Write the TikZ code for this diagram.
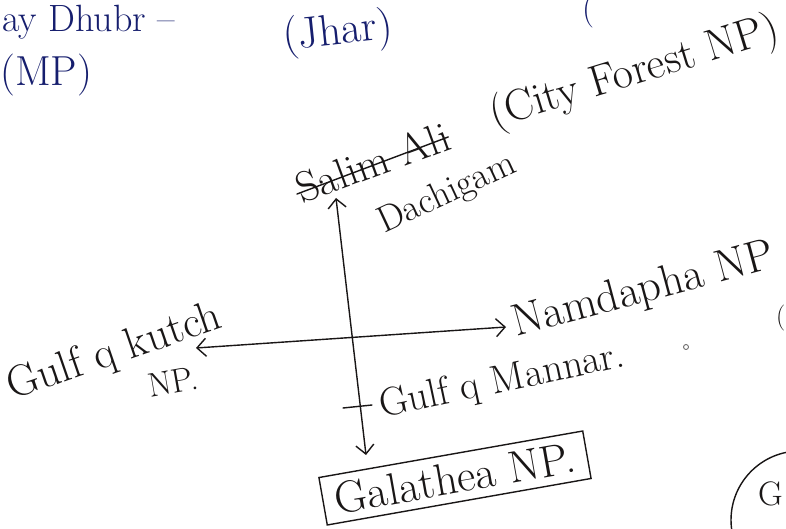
\documentclass[tikz,border=0pt]{standalone}
\usetikzlibrary{arrows.meta}
\definecolor{ink}{RGB}{25,22,22}
\definecolor{blueink}{RGB}{22,30,110}
\tikzset{
  hand/.style={inner sep=0pt, text=ink, font=\fontsize{#1}{#1}\selectfont},
  bluehand/.style={inner sep=0pt, text=blueink, font=\fontsize{#1}{#1}\selectfont},
  pen/.style={draw=ink, line width=1.4pt, line cap=round, line join=round},
  barbs/.style={{Straight Barb[length=9pt,width=18pt,line width=1.4pt]}-{Straight Barb[length=9pt,width=18pt,line width=1.4pt]}}
}
\begin{document}
\begin{tikzpicture}[x=1pt,y=-1pt]
\useasboundingbox (0,0) rectangle (786,529);
\fill[white] (0,0) rectangle (786,529);
\clip (0,0) rectangle (786,529);

% blue notes at the top
\node[bluehand=38, anchor=base west] (dhubr) at (2,32) {ay Dhubr --};
\node[bluehand=42, anchor=base west] (mp) at (0,86) {(MP)};
\node[bluehand=44, anchor=base west, rotate=6] (jhar) at (284,50) {(Jhar)};
\node[bluehand=34, anchor=base west] (cut) at (582,20) {(};

% top labels
\node[hand=43, anchor=base west, rotate=20] (salim) at (302,204) {Salim Ali};
\draw[pen] (salim.west) ++(0,4) -- ([yshift=-2pt]salim.east);
\node[hand=44, anchor=base west, rotate=17] (city) at (494,128) {(City Forest NP)};
\node[hand=37, anchor=base west, rotate=25] (dachigam) at (384,234) {Dachigam};

% right and left labels
\node[hand=45, anchor=base west, rotate=15] (namdapha) at (516,337) {Namdapha NP};
\node[hand=44, anchor=base west, rotate=19] (kutch) at (12,400) {Gulf q kutch};
\node[hand=34, anchor=base west, rotate=10] (kutchnp) at (150,398) {NP.};
\node[hand=40, anchor=base west, rotate=12] (mannar) at (382,418) {Gulf q Mannar.};

% boxed label
\node[hand=45, draw=ink, line width=1.4pt, rotate=10, inner xsep=12pt, inner ysep=8pt] (galathea) at (455,478) {Galathea NP.};

% connectors
\coordinate (vtop) at (336,198);
\coordinate (vbot) at (366,455);
\coordinate (hleft) at (196,348);
\coordinate (hright) at (506,327);
\draw[pen, barbs] (vbot) -- (vtop);
\draw[pen, barbs] (hleft) -- (hright);
\coordinate (tickl) at (343,408);
\coordinate (tickr) at (372,405);
\draw[pen] (tickl) -- (tickr);

% bits at the right edge
\draw[pen] (800,520) circle (69);
\node[hand=34, anchor=base west] (g) at (758,505) {G};
\node[hand=26, anchor=base west] (par) at (776,324) {(};
\draw[draw=ink!70, line width=0.8pt] (686,347) circle (2.5);
\end{tikzpicture}
\end{document}
